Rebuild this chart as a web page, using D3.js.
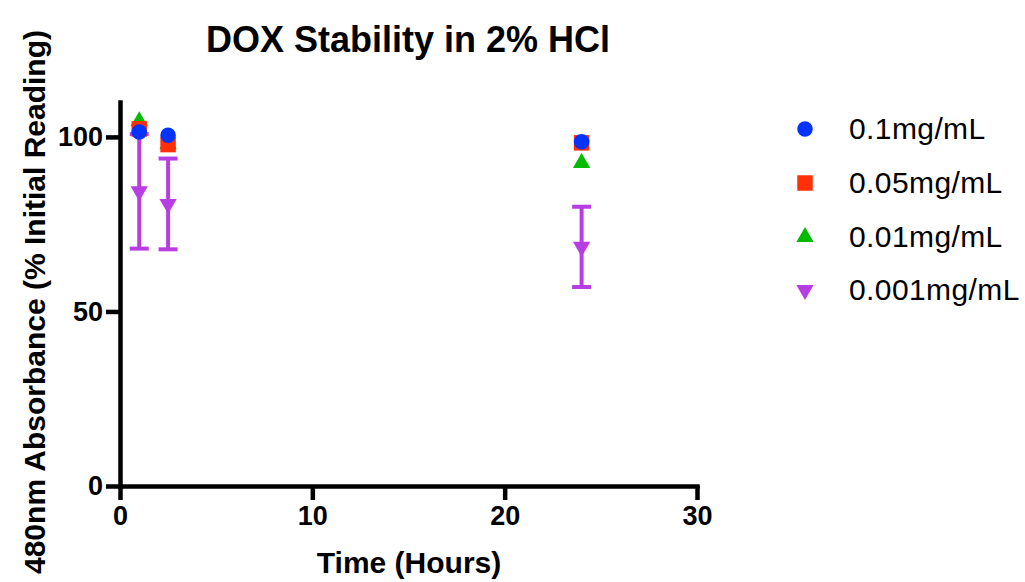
<!DOCTYPE html>
<html>
<head>
<meta charset="UTF-8">
<script src="https://d3js.org/d3.v7.min.js"></script>
<style>
    body { margin: 0; background: #fff; font-family: "Liberation Sans", Arial, sans-serif; }
    .axis path, .axis line { stroke: #000; stroke-width: 4.5px; }
    .axis text { font-size: 27px; font-weight: bold; fill: #000; font-family: "Liberation Sans", Arial, sans-serif; }
</style>
</head>
<body>
<div id="chart"></div>
<script>
    // data
    const times = [1, 2.5, 24];
    const seriesNames = ["0.1mg/mL", "0.05mg/mL", "0.01mg/mL", "0.001mg/mL"];
    const mean01 = [101.4, 100.5, 98.6];
    const mean005 = [102.3, 97.8, 98.3];
    const mean001 = [104.5, 98.0, 92.5];
    const mean0001 = [84.4, 80.8, 68.5];
    const err0001 = [16.4, 13.0, 11.5];
    const xTicks = [0, 10, 20, 30];
    const yTicks = [0, 50, 100];

    const colors = ["#0433ff", "#ff2f0a", "#00bb00", "#b83ee3"];
    const shapes = [d3.symbolCircle, d3.symbolSquare, d3.symbolTriangle, d3.symbolTriangle];

    const W = 1025, H = 582;
    const svg = d3.select("#chart").append("svg")
        .attr("width", W).attr("height", H);

    const x = d3.scaleLinear().domain([0, 30]).range([120, 697]);
    const y = d3.scaleLinear().domain([0, 110]).range([486, 102]);

    svg.append("g")
        .attr("class", "axis")
        .attr("transform", "translate(0,486)")
        .call(d3.axisBottom(x).tickValues(xTicks).tickSize(14).tickSizeOuter(0).tickPadding(6));

    svg.append("g")
        .attr("class", "axis")
        .attr("transform", "translate(120,0)")
        .call(d3.axisLeft(y).tickValues(yTicks).tickSize(14).tickSizeOuter(0).tickPadding(3));

    svg.selectAll(".axis path").attr("stroke-linecap", "square");

    // titles
    svg.append("text")
        .attr("x", 408).attr("y", 52)
        .attr("text-anchor", "middle")
        .style("font-size", "36px").style("font-weight", "bold")
        .text("DOX Stability in 2% HCl");

    svg.append("text")
        .attr("x", 409).attr("y", 573)
        .attr("text-anchor", "middle")
        .style("font-size", "30px").style("font-weight", "bold")
        .text("Time (Hours)");

    svg.append("text")
        .attr("transform", "translate(45,302) rotate(-90)")
        .attr("text-anchor", "middle")
        .style("font-size", "30px").style("font-weight", "bold")
        .text("480nm Absorbance (% Initial Reading)");

    // error bars for the 0.001 series
    const eb = svg.append("g")
        .attr("stroke", colors[3]).attr("stroke-width", 4);
    times.forEach((t, i) => {
        const lo = y(mean0001[i] - err0001[i]), hi = y(mean0001[i] + err0001[i]);
        eb.append("line").attr("x1", x(t)).attr("x2", x(t)).attr("y1", lo).attr("y2", hi);
        eb.append("line").attr("x1", x(t) - 9.5).attr("x2", x(t) + 9.5).attr("y1", lo).attr("y2", lo);
        eb.append("line").attr("x1", x(t) - 9.5).attr("x2", x(t) + 9.5).attr("y1", hi).attr("y2", hi);
    });

    const allMeans = [mean01, mean005, mean001, mean0001];
    const sizes = [190, 240, 130, 130];

    function marker(sel, k) {
        const p = d3.symbol().type(shapes[k]).size(sizes[k])();
        return sel.attr("d", p).attr("fill", colors[k]);
    }

    // draw order: purple, green, red, blue on top
    [3, 2, 1, 0].forEach(k => {
        svg.append("g").selectAll("path")
            .data(times.map((t, i) => ({ t, v: allMeans[k][i] })))
            .join("path")
            .call(marker, k)
            .attr("transform", d => `translate(${x(d.t)},${y(d.v)})` + (k === 3 ? " rotate(180)" : ""));
    });

    // legend
    const legY = [129, 183, 237, 290];
    const leg = svg.append("g");
    seriesNames.forEach((name, k) => {
        leg.append("path")
            .call(marker, k)
            .attr("transform", `translate(805,${legY[k]})` + (k === 3 ? " rotate(180)" : ""));
        leg.append("text")
            .attr("x", 849).attr("y", legY[k] + 10)
            .style("font-size", "30px")
            .style("letter-spacing", "0.4px")
            .text(name);
    });
</script>
</body>
</html>
